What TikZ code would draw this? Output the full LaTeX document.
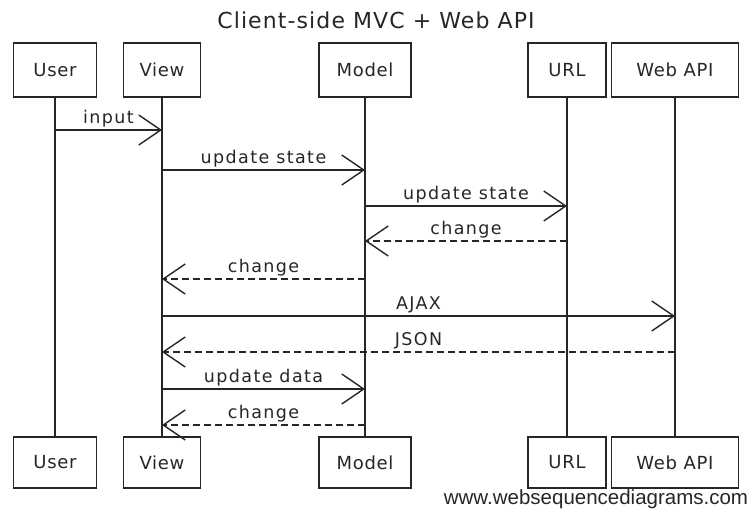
\documentclass[tikz,border=0pt]{standalone}
\usepackage{fontspec}
\setmainfont{DejaVu Sans}
\newfontfamily\wmfont{Liberation Sans}
\newfontfamily\lblfont[LetterSpace=8]{DejaVu Sans}
\newfontfamily\boxfont[LetterSpace=4]{DejaVu Sans}
\newfontfamily\titlefont[LetterSpace=5]{DejaVu Sans}
\usetikzlibrary{arrows.meta}
\definecolor{ink}{HTML}{262626}
\begin{document}
\begin{tikzpicture}[x=1pt,y=-1pt,
  actor/.style={draw=ink, line width=1.4pt, inner sep=0pt, text=ink,
    font=\boxfont\fontsize{18}{21}\selectfont},
  life/.style={draw=ink, line width=1.5pt},
  msg/.style={draw=ink, line width=1.4pt, -{Straight Barb[length=22pt,width=30pt]}},
  reply/.style={msg, dash pattern=on 7pt off 4pt},
  lbl/.style={above, inner sep=2.5pt, text=ink, font=\lblfont\fontsize{17.5}{20}\selectfont}]
\useasboundingbox (0,0) rectangle (753,509);
% title
\node[text=ink, font=\titlefont\fontsize{22}{25}\selectfont] (title) at (376,20) {Client-side MVC + Web API};
% top actors
\node[actor, minimum width=83pt, minimum height=54pt] (ut) at (55,70) {User};
\node[actor, minimum width=77pt, minimum height=54pt] (vt) at (162,70) {View};
\node[actor, minimum width=92pt, minimum height=54pt] (mt) at (365,70) {Model};
\node[actor, minimum width=78pt, minimum height=54pt] (rt) at (567,70) {URL};
\node[actor, minimum width=127pt, minimum height=54pt] (wt) at (675,70) {Web API};
% bottom actors
\node[actor, minimum width=83pt, minimum height=51pt] (ub) at (55,462.5) {User};
\node[actor, minimum width=77pt, minimum height=51pt] (vb) at (162,462.5) {View};
\node[actor, minimum width=92pt, minimum height=51pt] (mb) at (365,462.5) {Model};
\node[actor, minimum width=78pt, minimum height=51pt] (rb) at (567,462.5) {URL};
\node[actor, minimum width=127pt, minimum height=51pt] (wb) at (675,462.5) {Web API};
% lifelines
\draw[life] (ut.south) -- (ub.north);
\draw[life] (vt.south) -- (vb.north);
\draw[life] (mt.south) -- (mb.north);
\draw[life] (rt.south) -- (rb.north);
\draw[life] (wt.south) -- (wb.north);
% messages
\draw[msg] (ut.south |- 0,130) -- node[lbl]{input} (vt.south |- 0,130);
\draw[msg] (vt.south |- 0,170) -- node[lbl]{update state} (mt.south |- 0,170);
\draw[msg] (mt.south |- 0,206) -- node[lbl]{update state} (rt.south |- 0,206);
\draw[reply] (rt.south |- 0,241) -- node[lbl]{change} (mt.south |- 0,241);
\draw[reply] (mt.south |- 0,279) -- node[lbl]{change} (vt.south |- 0,279);
\draw[msg] (vt.south |- 0,316) -- node[lbl]{AJAX} (wt.south |- 0,316);
\draw[reply] (wt.south |- 0,352) -- node[lbl]{JSON} (vt.south |- 0,352);
\draw[msg] (vt.south |- 0,389) -- node[lbl]{update data} (mt.south |- 0,389);
\draw[reply] (mt.south |- 0,425) -- node[lbl]{change} (vt.south |- 0,425);
% watermark
\node[text=ink, font=\wmfont\fontsize{20.5}{23}\selectfont] (wm) at (596,499) {www.websequencediagrams.com};
\end{tikzpicture}
\end{document}
